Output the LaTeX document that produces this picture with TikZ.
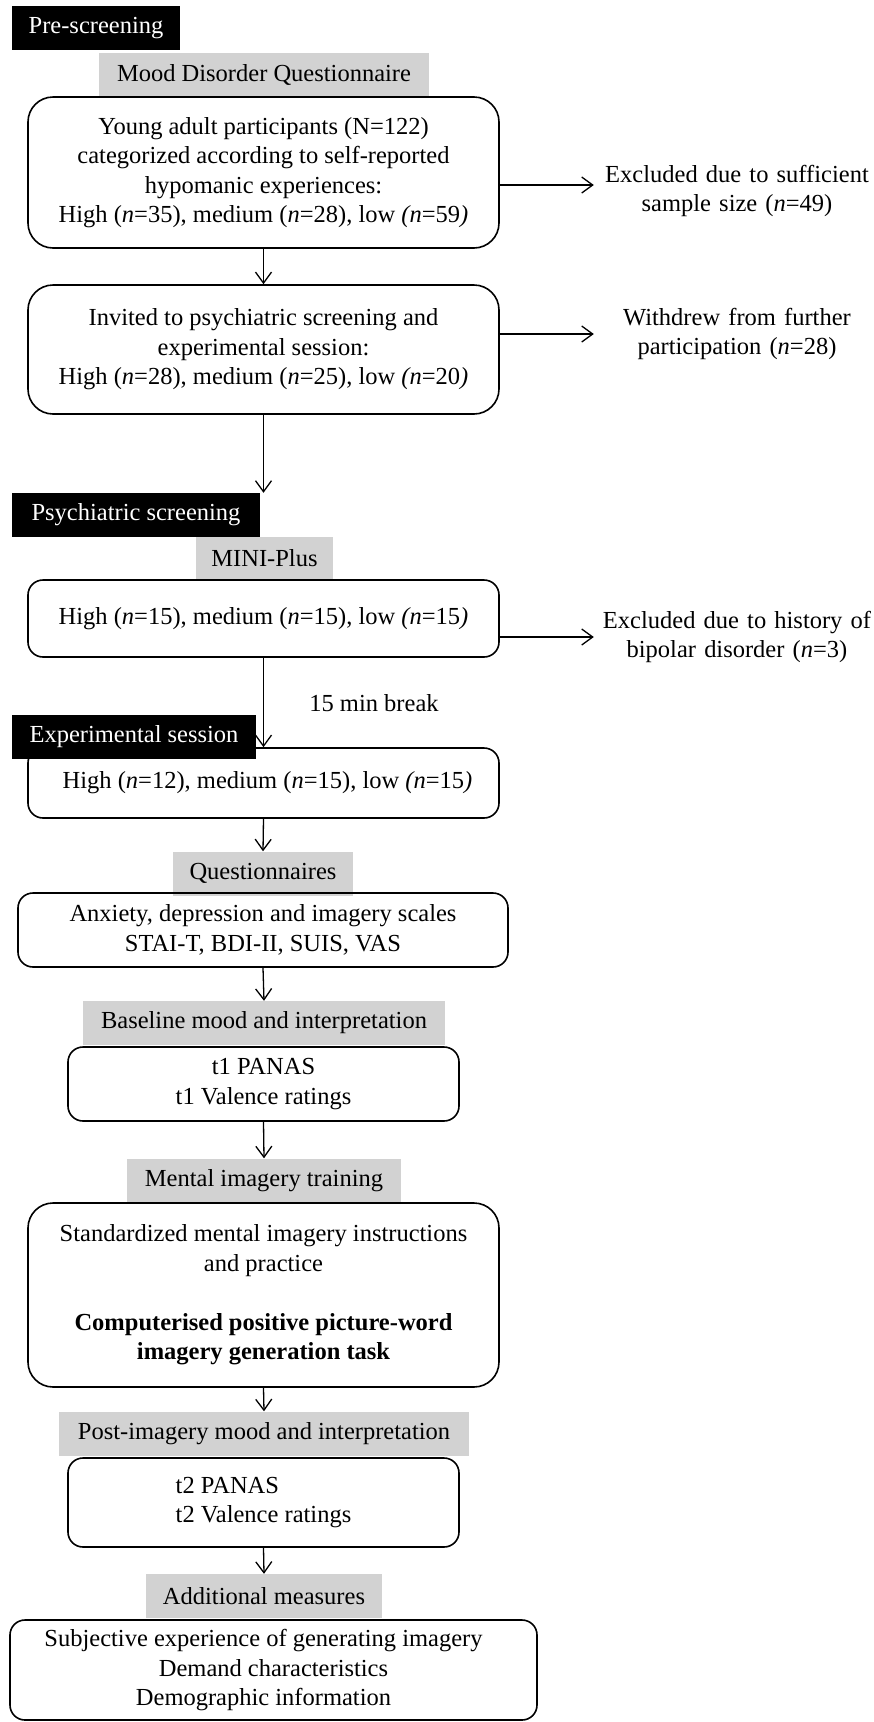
\documentclass[tikz,border=0pt]{standalone}
\usepackage{fontspec}
\setmainfont{Liberation Serif}
\usetikzlibrary{arrows.meta}
\tikzset{
    stagebox/.style={fill=black,text=white,minimum height=44pt,inner xsep=14pt},
    tabbox/.style={fill=gray!35,minimum height=44pt},
    flowbox/.style={draw,line width=1.6pt,rounded corners=15pt,align=center},
    sidetext/.style={text width=282pt,align=center,inner xsep=2pt},
    flowarrow/.style={line width=1.3pt,-{Straight Barb[length=11pt,width=16pt]}}
}
\begin{document}
\begin{tikzpicture}[x=1pt,y=-1pt,font=\fontsize{24.5}{29.5}\selectfont]
    \useasboundingbox (0,0) rectangle (874,1722);
    % pre-screening
    \node[stagebox,minimum width=168pt] (pre) at (96,28) {Pre-screening};
    \node[tabbox,minimum width=330pt] (mdq) at (264,75) {Mood Disorder Questionnaire};
    \node[flowbox,rounded corners=25pt,minimum width=471pt,minimum height=151pt] (young) at (263.5,172.5)
        {Young adult participants (N=122)\\categorized according to self-reported\\hypomanic experiences:\\
         High (\textit{n}=35), medium (\textit{n}=28), low \textit{(n}=59\textit{)}};
    \node[sidetext] (excl1) at (737,191) {Excluded due to sufficient\\sample size (\textit{n}=49)};
    \coordinate (exend) at ([yshift=6pt]excl1.west);
    \node[flowbox,rounded corners=25pt,minimum width=471pt,minimum height=129pt] (invited) at (263.5,349.5)
        {Invited to psychiatric screening and\\experimental session:\\
         High (\textit{n}=28), medium (\textit{n}=25), low \textit{(n}=20\textit{)}};
    \node[sidetext] (withdrew) at (737,334) {Withdrew from further\\participation (\textit{n}=28)};
    % psychiatric screening
    \node[stagebox,minimum width=248pt] (psych) at (136,515) {Psychiatric screening};
    \node[tabbox,minimum width=137pt] (mini) at (264.5,558.5) {MINI-Plus};
    \node[flowbox,minimum width=471pt,minimum height=77pt] (screened) at (263.5,618.5)
        {High (\textit{n}=15), medium (\textit{n}=15), low \textit{(n}=15\textit{)}};
    \node[sidetext] (excl2) at (737,637) {Excluded due to history of\\bipolar disorder (\textit{n}=3)};
    \node (brk) at (374,703) {15 min break};
    % experimental session
    \node[flowbox,minimum width=471pt,minimum height=70pt] (session) at (263.5,783)
        {\hspace*{8pt}High (\textit{n}=12), medium (\textit{n}=15), low \textit{(n}=15\textit{)}};
    \node[stagebox,minimum width=244pt] (exp) at (134,736.5) {Experimental session};
    \node[tabbox,minimum width=180pt] (quest) at (263,873.5) {Questionnaires};
    \node[flowbox,minimum width=490pt,minimum height=74pt] (scales) at (263,930)
        {Anxiety, depression and imagery scales\\STAI-T, BDI-II, SUIS, VAS};
    \node[tabbox,minimum width=362pt] (base) at (264,1023) {Baseline mood and interpretation};
    \node[flowbox,minimum width=391pt,minimum height=74pt] (tone) at (263.5,1084)
        {t1 PANAS\\t1 Valence ratings};
    \node[tabbox,minimum width=274pt] (ment) at (264,1180.5) {Mental imagery training};
    \node[flowbox,rounded corners=25pt,minimum width=471pt,minimum height=184pt] (train) at (263.5,1295)
        {Standardized mental imagery instructions\\and practice\\[29.5pt]
         \textbf{Computerised positive picture-word}\\\textbf{imagery generation task}};
    \node[tabbox,minimum width=410pt] (post) at (264,1433.5) {Post-imagery mood and interpretation};
    \node[flowbox,align=left,minimum width=391pt,minimum height=89pt] (ttwo) at (263.5,1502.5)
        {t2 PANAS\\t2 Valence ratings};
    \node[tabbox,minimum width=236pt] (add) at (264,1596) {Additional measures};
    \node[flowbox,minimum width=527pt,minimum height=100pt] (extra) at (273.5,1670)
        {Subjective experience of generating imagery\hspace*{20pt}\\Demand characteristics\hspace*{20pt}\\
         Demographic information\hspace*{20pt}};
    % connectors
    \draw[flowarrow] (young.south) -- (invited.north);
    \draw[flowarrow] (young.east |- exend) -- (exend);
    \draw[flowarrow] (invited.east |- withdrew) -- (withdrew.west);
    \draw[flowarrow] (invited.south) -- (invited.south |- psych.north);
    \draw[flowarrow] (screened.east |- excl2) -- (excl2.west);
    \draw[flowarrow] (screened.south) -- (session.north);
    \draw[flowarrow] (session.south) -- (quest.north);
    \draw[flowarrow] (scales.south) -- (base.north);
    \draw[flowarrow] (tone.south) -- (ment.north);
    \draw[flowarrow] (train.south) -- (post.north);
    \draw[flowarrow] (ttwo.south) -- (add.north);
\end{tikzpicture}
\end{document}
